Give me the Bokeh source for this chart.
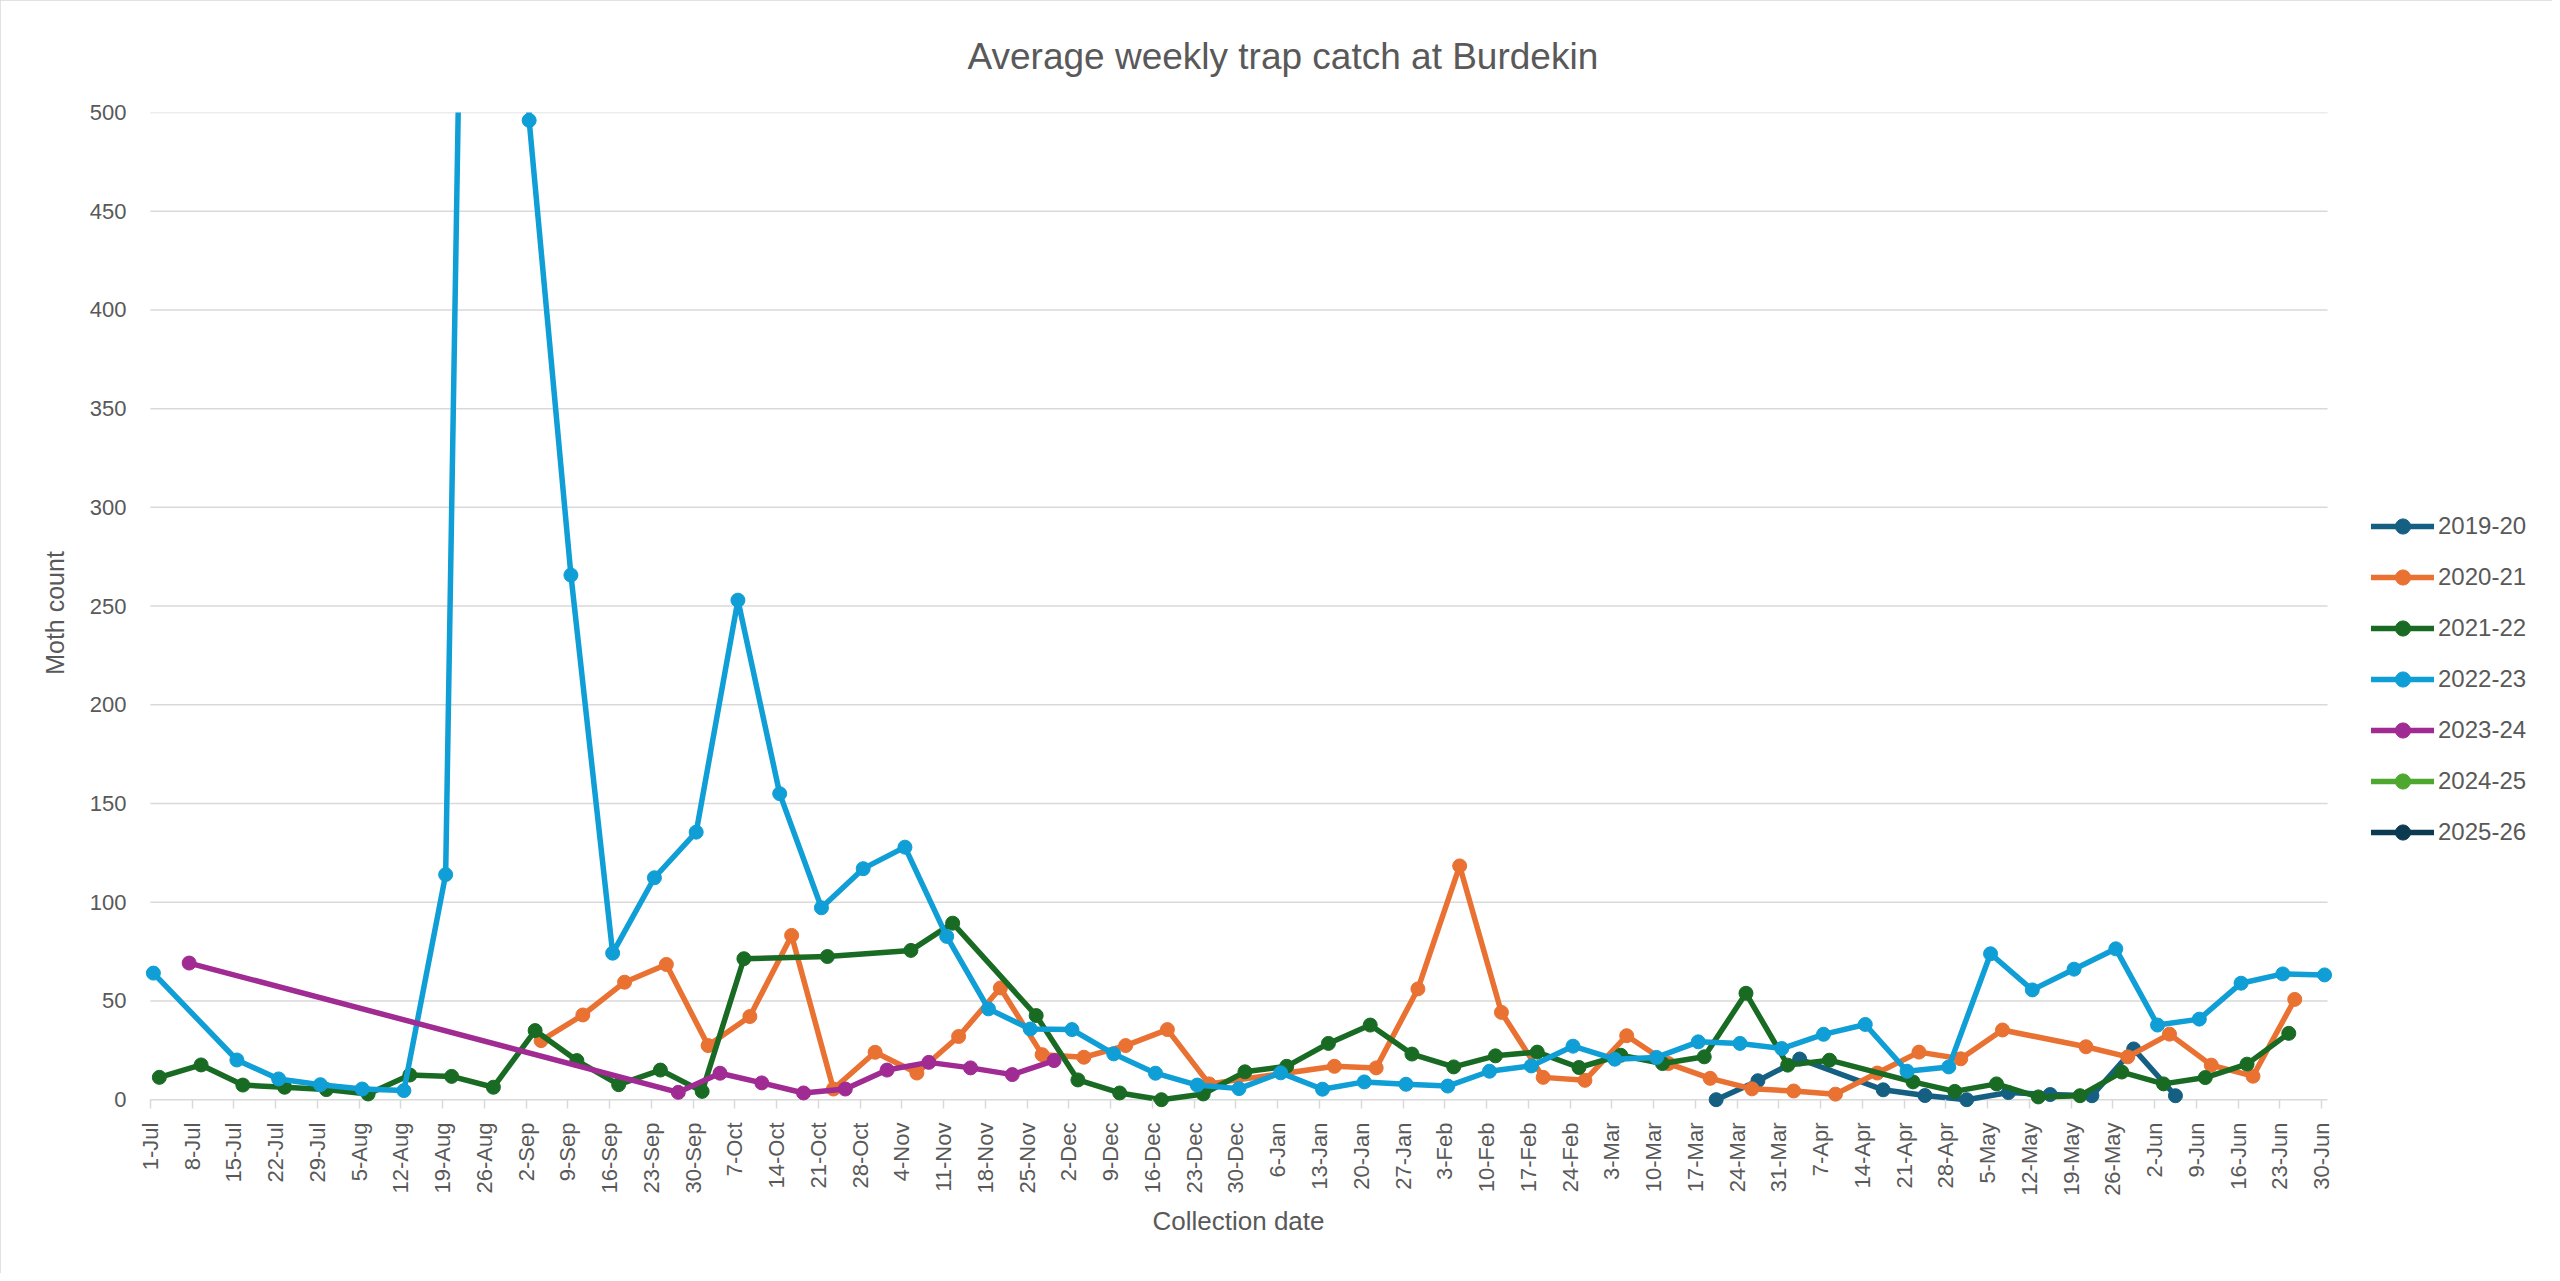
import math
from datetime import datetime

from bokeh.plotting import figure
from bokeh.models import ColumnDataSource, FixedTicker, Legend, LegendItem, Title
from bokeh.embed import file_html
from bokeh.resources import INLINE

# Weekly tick labels (collection weeks, Jul-Jun season)
tick_labels = [
    "1-Jul", "8-Jul", "15-Jul", "22-Jul", "29-Jul", "5-Aug", "12-Aug", "19-Aug", "26-Aug",
    "2-Sep", "9-Sep", "16-Sep", "23-Sep", "30-Sep", "7-Oct", "14-Oct", "21-Oct", "28-Oct",
    "4-Nov", "11-Nov", "18-Nov", "25-Nov", "2-Dec", "9-Dec", "16-Dec", "23-Dec", "30-Dec",
    "6-Jan", "13-Jan", "20-Jan", "27-Jan", "3-Feb", "10-Feb", "17-Feb", "24-Feb", "3-Mar",
    "10-Mar", "17-Mar", "24-Mar", "31-Mar", "7-Apr", "14-Apr", "21-Apr", "28-Apr", "5-May",
    "12-May", "19-May", "26-May", "2-Jun", "9-Jun", "16-Jun", "23-Jun", "30-Jun",
]
y_ticks = [0, 50, 100, 150, 200, 250, 300, 350, 400, 450, 500]

seasons = ["2019-20", "2020-21", "2021-22", "2022-23", "2023-24", "2024-25", "2025-26"]
colors = ["#156082", "#E97132", "#196B24", "#0F9ED5", "#A02B93", "#4EA72E", "#0C3A50"]

# 2019-20
dates_2019_20 = ["20-Mar", "27-Mar", "3-Apr", "17-Apr", "24-Apr", "1-May", "8-May",
                 "15-May", "22-May", "29-May", "5-Jun"]
counts_2019_20 = [0, 9.6, 20.6, 5.0, 2.1, 0, 3.6, 2.6, 2.0, 25.7, 2.0]

# 2020-21
dates_2020_21 = ["4-Sep", "11-Sep", "18-Sep", "25-Sep", "2-Oct", "9-Oct", "16-Oct", "23-Oct",
                 "30-Oct", "6-Nov", "13-Nov", "20-Nov", "27-Nov", "4-Dec", "11-Dec", "18-Dec",
                 "25-Dec", "15-Jan", "22-Jan", "29-Jan", "5-Feb", "12-Feb", "19-Feb", "26-Feb",
                 "5-Mar", "12-Mar", "19-Mar", "26-Mar", "2-Apr", "9-Apr", "16-Apr", "23-Apr",
                 "30-Apr", "7-May", "21-May", "28-May", "4-Jun", "11-Jun", "18-Jun", "25-Jun"]
counts_2020_21 = [29.9, 42.9, 59.5, 68.5, 27.4, 42.1, 83.2, 5.4, 24.0, 13.5, 32.0, 56.6,
                  22.8, 21.5, 27.4, 35.5, 8.0, 16.9, 16.1, 56.1, 118.4, 44.2, 11.3, 9.8,
                  32.4, 18.3, 10.8, 5.5, 4.4, 2.8, 13.5, 24.1, 20.7, 35.3, 26.8, 21.7,
                  33.2, 17.5, 11.9, 50.8]

# 2021-22
dates_2021_22 = ["2-Jul", "9-Jul", "16-Jul", "23-Jul", "30-Jul", "6-Aug", "13-Aug", "20-Aug",
                 "27-Aug", "3-Sep", "10-Sep", "17-Sep", "24-Sep", "1-Oct", "8-Oct", "22-Oct",
                 "5-Nov", "12-Nov", "26-Nov", "3-Dec", "10-Dec", "17-Dec", "24-Dec", "31-Dec",
                 "7-Jan", "14-Jan", "21-Jan", "28-Jan", "4-Feb", "11-Feb", "18-Feb", "25-Feb",
                 "4-Mar", "11-Mar", "18-Mar", "25-Mar", "1-Apr", "8-Apr", "22-Apr", "29-Apr",
                 "6-May", "13-May", "20-May", "27-May", "3-Jun", "10-Jun", "17-Jun", "24-Jun"]
counts_2021_22 = [11.3, 17.6, 7.4, 6.3, 5.1, 2.9, 12.5, 11.8, 6.3, 35.0, 19.8, 7.6, 15.0,
                  4.2, 71.4, 72.5, 75.6, 89.4, 42.6, 10.0, 3.4, 0, 2.9, 14.1, 16.9, 28.5,
                  37.8, 23.1, 16.6, 22.2, 24.1, 16.3, 22.5, 18.3, 21.7, 53.9, 17.5, 20.0,
                  9.0, 4.2, 8.0, 1.4, 2.0, 14.0, 8.0, 11.2, 18.0, 33.6]

# 2022-23
dates_2022_23 = ["1-Jul", "15-Jul", "22-Jul", "29-Jul", "5-Aug", "12-Aug", "19-Aug", "26-Aug",
                 "2-Sep", "9-Sep", "16-Sep", "23-Sep", "30-Sep", "7-Oct", "14-Oct", "21-Oct",
                 "28-Oct", "4-Nov", "11-Nov", "18-Nov", "25-Nov", "2-Dec", "9-Dec", "16-Dec",
                 "23-Dec", "30-Dec", "6-Jan", "13-Jan", "20-Jan", "27-Jan", "3-Feb", "10-Feb",
                 "17-Feb", "24-Feb", "3-Mar", "10-Mar", "17-Mar", "24-Mar", "31-Mar", "7-Apr",
                 "14-Apr", "21-Apr", "28-Apr", "5-May", "12-May", "19-May", "26-May", "2-Jun",
                 "9-Jun", "16-Jun", "23-Jun", "30-Jun"]
counts_2022_23 = [64.1, 20.1, 10.5, 7.6, 5.4, 4.6, 114.0, 1400.0, 496.0, 265.7, 74.2, 112.4,
                  135.5, 253.0, 155.0, 97.2, 117.0, 127.9, 82.7, 46.0, 35.8, 35.5, 23.2,
                  13.4, 7.4, 5.6, 13.6, 5.3, 9.0, 7.8, 6.9, 14.4, 17.1, 27.1, 20.5, 21.4,
                  29.3, 28.5, 25.9, 33.1, 38.1, 14.4, 16.6, 73.9, 55.6, 66.1, 76.4, 37.8,
                  40.8, 59.0, 63.7, 63.2]

# 2023-24
dates_2023_24 = ["7-Jul", "27-Sep", "4-Oct", "11-Oct", "18-Oct", "25-Oct", "1-Nov", "8-Nov",
                 "15-Nov", "22-Nov", "29-Nov"]
counts_2023_24 = [69.2, 3.7, 13.4, 8.5, 3.4, 5.4, 15.0, 18.9, 16.1, 12.7, 19.8]

# 2024-25 and 2025-26 have no catches plotted yet
dates_2024_25 = []
counts_2024_25 = []
dates_2025_26 = []
counts_2025_26 = []

season_dates = [dates_2019_20, dates_2020_21, dates_2021_22, dates_2022_23,
                dates_2023_24, dates_2024_25, dates_2025_26]
season_counts = [counts_2019_20, counts_2020_21, counts_2021_22, counts_2022_23,
                 counts_2023_24, counts_2024_25, counts_2025_26]


def season_day(label):
    # days after 1 July in a common (non-leap) Jul-Jun season
    d = datetime.strptime(label, "%d-%b")
    year = 1900 if d.month >= 7 else 1901
    return (datetime(year, d.month, d.day) - datetime(1900, 7, 1)).days


TEXT = "#595959"
GRID = "#d9d9d9"
FONT = "Liberation Sans"

season_end = season_day(tick_labels[-1]) + 1

# the frame runs on past the season so the legend can sit inside it
p = figure(width=2552, height=1273, x_range=(-3, 400.7), y_range=(-7, 500),
           title="Average weekly trap catch at Burdekin",
           output_backend="svg", toolbar_location=None,
           min_border_left=132, min_border_right=12,
           min_border_top=112, min_border_bottom=160)
p.outline_line_color = None
p.background_fill_color = "white"
p.border_fill_color = "white"
p.styles = {"outline": "2px solid #d9d9d9", "outline-offset": "-2px"}

p.title.align = "left"
p.title.offset = 835
p.title.vertical_align = "top"
p.title.standoff = 68
p.title.text_font = FONT
p.title.text_font_size = "37px"
p.title.text_font_style = "normal"
p.title.text_color = TEXT

p.xgrid.visible = False
p.ygrid.visible = False
p.segment(x0=0, x1=season_end, y0=y_ticks, y1=y_ticks, line_color=GRID, line_width=1.5)

tick_days = [season_day(t) for t in tick_labels]
p.xaxis.ticker = FixedTicker(ticks=tick_days)
p.xaxis.major_label_overrides = {d: t for d, t in zip(tick_days, tick_labels)}
p.xaxis.major_label_orientation = math.pi / 2
p.xaxis.axis_line_color = None
p.xaxis.major_tick_line_color = GRID
p.xaxis.major_tick_line_width = 1.5
p.xaxis.major_tick_in = 14
p.xaxis.major_tick_out = -5
p.xaxis.minor_tick_line_color = None
p.xaxis.major_label_standoff = 9

p.yaxis.ticker = FixedTicker(ticks=y_ticks)
p.yaxis.axis_line_color = None
p.yaxis.major_tick_line_color = None
p.yaxis.minor_tick_line_color = None
p.yaxis.major_label_standoff = 0
p.yaxis.axis_label = "Moth count"
p.yaxis.axis_label_standoff = 18

for ax in (p.xaxis, p.yaxis):
    ax.major_label_text_font = FONT
    ax.major_label_text_font_size = "22px"
    ax.major_label_text_color = TEXT
    ax.axis_label_text_font = FONT
    ax.axis_label_text_font_size = "25px"
    ax.axis_label_text_font_style = "normal"
    ax.axis_label_text_color = TEXT

# x-axis title centred under the season, not under the whole frame
x_title = Title(text="Collection date", align="left", offset=1020, standoff=10,
                text_font=FONT, text_font_size="26px", text_font_style="normal",
                text_color=TEXT)
p.add_layout(x_title, "below")

items = []
for season, color, dates, counts in zip(seasons, colors, season_dates, season_counts):
    # points sit in the middle of their collection day
    xs = [season_day(d) + 0.5 for d in dates] or [float("nan")]
    ys = list(counts) or [float("nan")]
    src = ColumnDataSource(data=dict(x=xs, y=ys))
    ln = p.line("x", "y", source=src, line_width=5.5, color=color,
                line_join="round", line_cap="round")
    pt = p.scatter("x", "y", source=src, size=14, color=color)
    items.append(LegendItem(label=season, renderers=[ln, pt]))

legend = Legend(items=items, location=(2239, 262), orientation="vertical",
                glyph_width=63, glyph_height=38, label_height=38, spacing=13,
                padding=0, margin=0, label_standoff=4,
                label_text_font=FONT, label_text_font_size="24px",
                label_text_color=TEXT, border_line_color=None,
                background_fill_alpha=0)
p.add_layout(legend)

open("out.html", "w").write(file_html(p, INLINE))
